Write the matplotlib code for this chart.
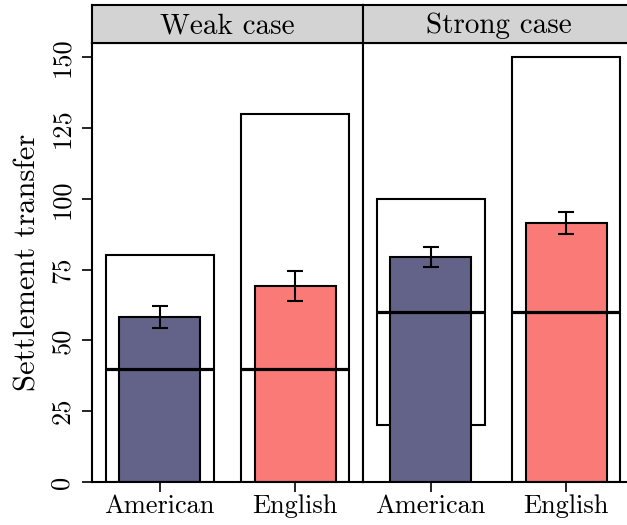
import numpy as np
import matplotlib.pyplot as plt

plt.rcParams['font.family'] = 'cmr10'
plt.rcParams['axes.formatter.use_mathtext'] = True

panels = ["Weak case", "Strong case"]
groups = ["American", "English"]

# outline boxes (range) per panel
box_low = [[0, 0], [20, 0]]
box_high = [[80, 130], [100, 150]]
# mean settlement and error half-width
means = [[58.3, 69.2], [79.5, 91.4]]
errs = [[4.0, 5.2], [3.5, 3.9]]
# horizontal reference line per panel
ref_line = [40, 60]

colors = ['#636389', '#fa7a78']

fig = plt.figure(figsize=(6.27, 5.25), dpi=100)
W, H = 627, 525

panel_x = [92, 363]
panel_w = 271
y_bot, y_top, strip_top = 482, 43, 5

for i, name in enumerate(panels):
    ax = fig.add_axes([panel_x[i] / W, 1 - y_bot / H, panel_w / W, (y_bot - y_top) / H])
    x = np.arange(1, len(groups) + 1)
    low = np.array(box_low[i])
    high = np.array(box_high[i])
    ax.bar(x, high - low, 0.8, bottom=low, color='white', edgecolor='black', linewidth=1.5, zorder=1)
    ax.bar(x, means[i], 0.6, color=colors, edgecolor='black', linewidth=1.5, zorder=2)
    for xi in x:
        ax.hlines(ref_line[i], xi - 0.4, xi + 0.4, color='black', linewidth=2.3, zorder=3)
    ax.errorbar(x, means[i], yerr=errs[i], fmt='none', ecolor='black', elinewidth=1.5,
                capsize=6, capthick=1.5, zorder=4)
    ax.set_xlim(0.5, 2.5)
    ax.set_ylim(0, 155)
    ax.set_xticks(x)
    ax.set_xticklabels(groups, fontsize=19)
    ax.tick_params(axis='x', length=7, width=1.2, pad=2)
    for s in ax.spines.values():
        s.set_linewidth(1.5)
    if i == 0:
        ax.set_yticks([0, 25, 50, 75, 100, 125, 150])
        ax.set_yticklabels(['0', '25', '50', '75', '100', '125', '150'], rotation=90, va='center', fontsize=19)
        ax.tick_params(axis='y', length=7, width=1.2, pad=6)
        ax.set_ylabel('Settlement transfer', fontsize=22, labelpad=6)
    else:
        ax.set_yticks([])

    sax = fig.add_axes([panel_x[i] / W, 1 - y_top / H, panel_w / W, (y_top - strip_top) / H])
    sax.set_facecolor('#d3d3d3')
    sax.set_xticks([])
    sax.set_yticks([])
    for s in sax.spines.values():
        s.set_linewidth(1.5)
    sax.text(0.5, 0.45, name, ha='center', va='center', fontsize=21, transform=sax.transAxes)

plt.savefig('out.png', dpi=100)
